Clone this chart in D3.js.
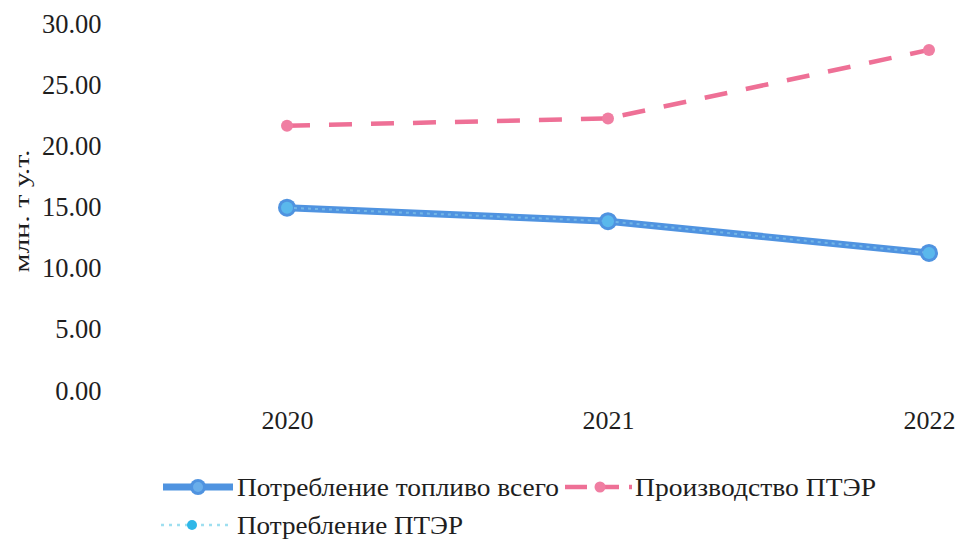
<!DOCTYPE html>
<html>
<head>
<meta charset="utf-8">
<script src="https://cdn.jsdelivr.net/npm/d3@7"></script>
<style>
  html, body { margin: 0; padding: 0; background: #fff; }
</style>
</head>
<body>
<svg id="chart" width="960" height="543" style="font-family: 'Liberation Serif'"></svg>
<script>
// Years on the category axis
const years = ["2020", "2021", "2022"];
// Series values, млн. т у.т.
const fuelTotal = [14.9, 13.8, 11.2];       // Потребление топливо всего
const pterProduction = [21.6, 22.2, 27.8];  // Производство ПТЭР
const pterConsumption = [14.9, 13.8, 11.2]; // Потребление ПТЭР
// Y axis ticks
const yTicks = [0, 5, 10, 15, 20, 25, 30];
// Legend entries
const legendNames = ["Потребление топливо всего", "Производство ПТЭР", "Потребление ПТЭР"];

const SERIF = '"Liberation Serif"';
const INK = "#1e1e1e";
const BLUE = "#4f93e0";
const BLUE_FILL = "#5ab8ec";
const PINK = "#ee7096";
const CYAN = "#9edff0";
const CYAN_DOT = "#2fb7e8";

const svg = d3.select("#chart");

const x = d3.scalePoint().domain(years).range([287, 929]);
const y = d3.scaleLinear().domain([0, 30]).range([390, 23]);

function serif(sel, size) {
  sel.attr("font-family", "Liberation Serif")
     .style("font-family", SERIF)
     .style("font-size", size + "px");
}

// Y axis labels (no axis line, no gridlines)
const yAxis = d3.axisLeft(y).tickValues(yTicks).tickFormat(d3.format(".2f")).tickSize(0).tickPadding(0);
svg.append("g")
  .attr("transform", "translate(101.5,0)")
  .call(yAxis)
  .call(g => g.attr("font-family", "Liberation Serif"))
  .call(g => g.select(".domain").remove())
  .call(g => g.selectAll("text")
    .call(serif, 26.5)
    .attr("fill", INK)
    .attr("dy", "0.34em"));

// X axis labels
const xAxis = d3.axisBottom(x).tickSize(0).tickPadding(0);
svg.append("g")
  .attr("transform", "translate(0,420)")
  .call(xAxis)
  .call(g => g.attr("font-family", "Liberation Serif"))
  .call(g => g.select(".domain").remove())
  .call(g => g.selectAll("text")
    .call(serif, 26)
    .attr("fill", INK)
    .attr("dy", "0.34em"));

// Y axis title
svg.append("text")
  .attr("transform", "translate(22,211) rotate(-90)")
  .attr("text-anchor", "middle")
  .attr("dy", "0.34em")
  .call(serif, 22)
  .attr("fill", INK)
  .attr("textLength", 123)
  .attr("lengthAdjust", "spacingAndGlyphs")
  .text("млн. т у.т.");

const line = d3.line().x((d, i) => x(years[i])).y(d => y(d));

// Производство ПТЭР — pink dashed
svg.append("path")
  .datum(pterProduction)
  .attr("d", line)
  .attr("fill", "none")
  .attr("stroke", PINK)
  .attr("stroke-width", 4.5)
  .attr("stroke-dasharray", "23,19");
svg.selectAll(".pt-prod").data(pterProduction).enter().append("circle")
  .attr("class", "pt-prod")
  .attr("cx", (d, i) => x(years[i])).attr("cy", d => y(d))
  .attr("r", 6).attr("fill", "#f07ea2");

// Потребление топливо всего — thick blue
svg.append("path")
  .datum(fuelTotal)
  .attr("d", line)
  .attr("fill", "none")
  .attr("stroke", BLUE)
  .attr("stroke-width", 7);
svg.selectAll(".pt-fuel").data(fuelTotal).enter().append("circle")
  .attr("class", "pt-fuel")
  .attr("cx", (d, i) => x(years[i])).attr("cy", d => y(d))
  .attr("r", 9).attr("fill", BLUE);

// Потребление ПТЭР — light cyan dotted, lying on the blue line
svg.append("path")
  .datum(pterConsumption)
  .attr("d", line)
  .attr("fill", "none")
  .attr("stroke", CYAN)
  .attr("stroke-width", 2)
  .attr("stroke-dasharray", "3,4")
  .attr("opacity", 0.45);
svg.selectAll(".pt-cons").data(pterConsumption).enter().append("circle")
  .attr("class", "pt-cons")
  .attr("cx", (d, i) => x(years[i])).attr("cy", d => y(d))
  .attr("r", 6).attr("fill", BLUE_FILL);

// Legend
const legend = svg.append("g").attr("font-family", "Liberation Serif");
function legendText(xPos, yPos, width, label) {
  legend.append("text")
    .attr("x", xPos).attr("y", yPos).attr("dy", "0.34em")
    .call(serif, 26)
    .attr("fill", INK)
    .attr("textLength", width)
    .attr("lengthAdjust", "spacingAndGlyphs")
    .text(label);
}

// row 1, item 1
legend.append("line").attr("x1", 163).attr("x2", 233).attr("y1", 487).attr("y2", 487)
  .attr("stroke", BLUE).attr("stroke-width", 7);
legend.append("circle").attr("cx", 198).attr("cy", 487).attr("r", 8).attr("fill", BLUE);
legend.append("circle").attr("cx", 198).attr("cy", 487).attr("r", 5).attr("fill", "#6aaeea");
legendText(237, 487, 322, legendNames[0]);

// row 1, item 2
legend.append("line").attr("x1", 565).attr("x2", 632).attr("y1", 487).attr("y2", 487)
  .attr("stroke", PINK).attr("stroke-width", 4.5).attr("stroke-dasharray", "22,10");
legend.append("circle").attr("cx", 600).attr("cy", 487).attr("r", 5.5).attr("fill", "#f07ea2");
legendText(635, 487, 241, legendNames[1]);

// row 2
legend.append("line").attr("x1", 161).attr("x2", 232).attr("y1", 525).attr("y2", 525)
  .attr("stroke", CYAN).attr("stroke-width", 2.5).attr("stroke-dasharray", "3,5");
legend.append("circle").attr("cx", 192).attr("cy", 525).attr("r", 5).attr("fill", CYAN_DOT);
legendText(237, 525, 226, legendNames[2]);
</script>
</body>
</html>
